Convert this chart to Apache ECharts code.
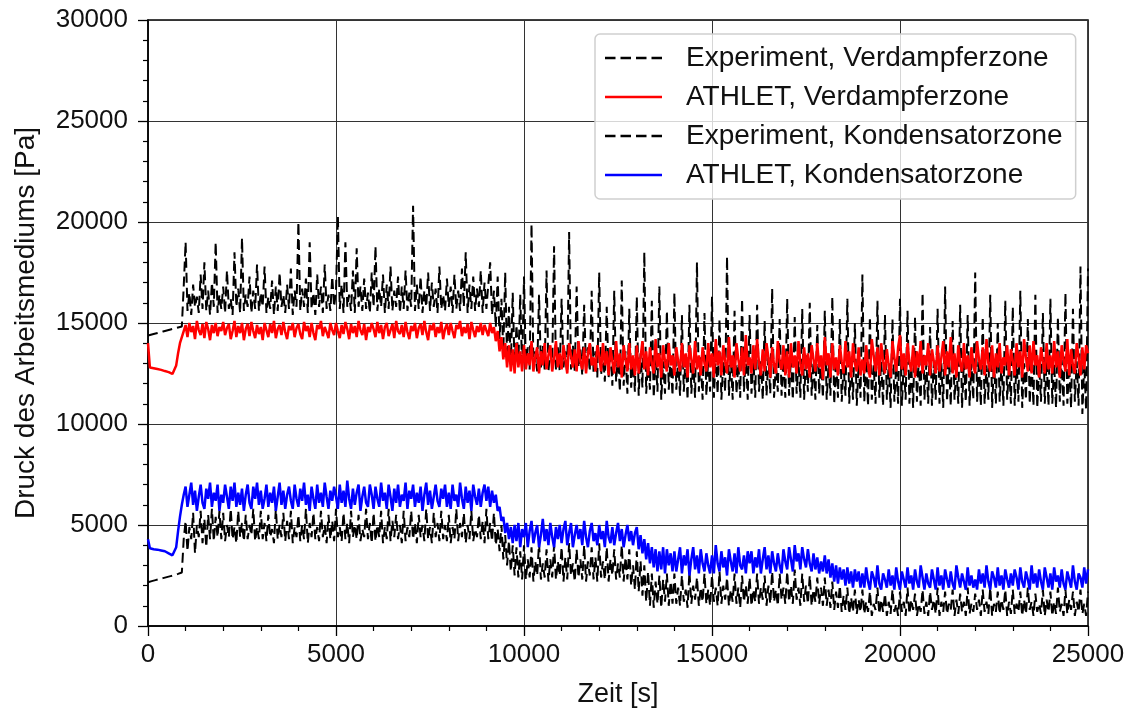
<!DOCTYPE html>
<html>
<head>
<meta charset="utf-8">
<title>Druck des Arbeitsmediums</title>
<script src="https://cdn.jsdelivr.net/npm/echarts@6.0.0/dist/echarts.min.js"></script>
<style>
  html, body { margin: 0; padding: 0; background: #fff; }
  #chart { width: 1132px; height: 713px; }
</style>
</head>
<body>
<div id="chart"></div>
<script>
// Abtastzeitpunkte, alle 50 s von 0 bis 25000 s
const zeit = [];
for (let t = 0; t <= 25000; t += 50) zeit.push(t);

// Experiment, Verdampferzone [Pa] (eine Zeile = 1000 s)
const expVerdampfer = [
  14380,14400,14430,14450,14480,14500,14530,14550,14580,14600,14630,14650,14680,14700,14730,14750,14780,14800,14830,16800,
  19000,15600,16500,15400,16900,15800,16300,15500,17400,15700,18000,15600,16600,15400,17000,15800,19000,15500,16400,15700,
  16800,15500,17600,15700,16200,15400,18500,15800,16700,15500,19200,15600,16400,15800,17300,15500,16600,15700,17900,15600,
  16500,15800,17800,15500,16300,15700,17100,15400,16800,15600,17500,15800,16400,15500,16900,15700,17700,15400,16600,15800,
  20000,15600,16700,15800,17200,15500,19000,15700,16500,15400,17400,15800,16800,15500,17900,15700,16400,15600,17300,15800,
  16600,20300,15700,16900,15500,19000,15800,16400,15600,17600,15500,18700,15800,16800,15600,17200,15700,16500,15500,17500,
  15800,18800,15600,16700,15800,17400,15500,16900,15700,17800,15600,16600,15800,17300,15500,16800,15700,17600,15600,16500,
  15800,20800,15600,16900,15700,17300,15500,16600,15800,17500,15600,17000,15800,16700,15500,17800,15700,16400,15600,17200,
  15800,16800,15500,17400,15700,16600,15600,17700,15800,18500,15500,16900,15700,17300,15600,16700,15800,17600,15500,17000,
  15700,16900,18000,15400,16600,14800,17300,14200,16200,13600,17500,13200,15800,12900,16500,12800,14900,13000,16400,12700,
  17300,12800,13800,12700,19900,12900,13600,12600,16400,12800,13900,12700,17600,12600,13700,12900,18800,12700,13800,12600,
  16200,12800,13600,12500,19500,12700,13900,12600,16800,12800,13700,12400,15900,12700,13800,12600,16600,12500,13600,12300,
  17500,12400,13500,12100,15800,12300,13700,11900,16600,12100,13400,11600,17100,11900,13600,11500,15700,11800,13300,11600,
  16300,11400,13500,11800,18500,11500,13200,11700,16100,11300,13400,11600,16800,11200,13100,11500,15600,11700,13300,11400,
  16500,11700,13200,11400,15400,11600,13500,11200,15900,11500,13100,11300,18000,11600,13300,11200,15500,11400,13200,11600,
  16300,11300,13400,11500,15200,11200,13100,11600,18300,11400,13300,11200,15600,11500,13000,11300,16200,11600,13400,11200,
  15400,11500,13200,11300,15900,11600,13100,11200,15100,11400,13300,11500,16700,11300,13000,11600,15200,11400,13200,11300,
  16200,11400,13300,11200,15300,11500,13100,11300,15700,11200,13400,11600,16000,11400,13100,11200,14900,11500,13200,11300,
  15600,11200,13000,11400,16300,11000,13200,11300,15200,11100,12900,11400,16200,11000,13100,11200,15000,10900,13000,11300,
  17400,11100,13200,10900,15300,11200,12900,11000,16100,11300,13100,10900,15400,11200,13000,10800,15200,11100,12900,11000,
  16200,10900,13100,11200,15600,11000,12900,10800,15300,11100,13200,10900,16500,11200,13000,11000,14800,10900,13100,11200,
  15700,11000,13000,10800,16800,11100,13200,10900,15100,11200,12900,11000,15900,10800,13100,11100,15400,10900,13000,11200,
  17500,11100,13200,10900,15300,11000,12900,11200,16400,10800,13100,11000,15000,11100,13000,10900,16100,11200,12900,11000,
  15800,10900,13100,11100,16600,10800,13000,11200,15200,11000,13200,10900,16400,10800,12900,11100,15500,11000,13100,10900,
  16200,11000,13000,10800,15300,11100,13200,10900,16500,11000,12900,10800,15700,11100,13100,10900,17800,10500,13000,10700,
  17700
];

// ATHLET, Verdampferzone [Pa]
const athletVerdampfer = [
  14000,12800,12780,12760,12740,12720,12700,12680,12650,12620,12600,12570,12530,12480,12450,12900,13500,14000,14300,14600,
  14900,14300,15000,14550,14850,14200,15100,14650,14400,14950,14250,15050,14700,14150,14900,14500,15000,14350,14800,14600,
  15050,14400,14750,14950,14200,14600,15100,14300,14850,14500,15000,14150,14700,14950,14350,15050,14600,14250,14900,14450,
  14800,14150,15000,14650,14300,14950,14500,15100,14250,14700,14900,14400,15050,14550,14200,14850,14650,15000,14300,14750,
  14950,14450,14200,15050,14600,14850,14300,15000,14500,14150,14900,14700,15100,14350,14800,14550,14250,15000,14650,14400,
  15000,14600,14250,14900,14450,15050,14700,14200,14950,14500,14850,14300,15100,14650,14400,14950,14150,14800,14550,15000,
  14700,14300,15050,14500,14900,14200,14800,15000,14350,14650,14950,14250,15100,14600,14450,14900,14300,15050,14550,14200,
  14850,14600,15000,14250,14750,14950,14400,15100,14550,14150,14900,14650,15000,14300,14800,14500,15050,14200,14700,14950,
  14400,15000,14600,14250,14900,14700,15100,14350,14800,14500,14950,14200,15050,14650,14300,14850,14550,15000,14400,14900,
  14950,14350,15000,14500,14800,14100,14600,13600,14300,13200,14000,12800,13900,12600,13700,12500,14000,12800,13600,12600,
  13900,12700,13500,12900,14100,12600,13300,13800,12500,13600,12900,14000,12700,13400,13900,12600,13200,14100,12800,13500,
  12700,13900,13200,12500,14000,13400,12800,13700,12600,14100,13100,12700,13800,12500,13500,14000,12900,13300,12600,13900,
  13400,12600,14000,12900,13600,12400,13800,13100,12500,14100,12800,13500,12300,13900,13200,12600,14000,12700,13400,12400,
  13900,12500,13300,14100,12700,13600,12400,13800,13000,12500,14200,12800,13500,12300,13900,13100,12600,14000,12900,13400,
  12400,13800,13100,12600,14000,12800,13500,12300,13900,13200,12500,14100,12700,13400,12400,13800,13000,12600,14000,12800,
  13500,12300,14200,12900,13600,12400,13900,13100,12500,14300,12800,13400,12300,14000,13200,12600,13800,12400,14400,12900,
  13300,12500,13900,12700,14200,13000,12400,13700,12600,14000,13300,12300,13800,12900,12500,14100,13100,12700,13900,12400,
  13600,12300,14000,12800,13400,12500,14100,13000,12400,13800,12700,13500,12300,13900,13200,12600,14000,12800,13400,12200,
  14300,12900,13500,12300,14000,12700,13300,12400,13900,13100,12500,14100,12800,13600,12300,14000,13000,12600,13800,12400,
  13200,12500,13900,12900,12300,14200,13400,12600,13800,12400,14000,13100,12500,13700,12900,12300,14100,13300,12600,13800,
  14400,12700,13500,12400,14000,13100,12600,13900,12300,13600,12800,14100,12500,13400,12900,14000,12400,13700,13100,12500,
  13900,12600,13300,14100,12400,13600,12800,14300,12500,13500,12300,13900,13000,12600,14000,12700,13400,12300,13800,12900,
  12500,14100,13200,12700,13800,12400,14200,13000,12600,13900,12300,13500,12800,14000,12500,13300,12900,13900,12400,13700,
  13100,12400,14000,12800,13600,12300,14200,13300,12600,13900,12500,14100,12900,13400,12300,13800,13100,12500,14000,12700,
  13400,12500,14100,12800,13600,12300,13900,13200,12600,14200,12400,13700,12900,12500,14000,13300,12400,13800,12700,13900,
  13500
];

// Experiment, Kondensatorzone [Pa]
const expKondensator = [
  2170,2200,2220,2250,2270,2300,2320,2350,2370,2400,2420,2450,2470,2500,2520,2550,2580,2610,2650,4300,
  5200,3700,4900,4300,5600,3600,5000,4400,5700,4100,5300,3900,5500,4300,5800,4200,5400,4400,5700,4300,
  5600,4200,5000,4400,5800,4300,4900,4100,5700,4400,5100,4200,5500,4300,5000,4500,5800,4200,4900,4300,
  5700,4300,5100,4200,5500,4400,4800,4100,5800,4300,5000,4400,5600,4200,5200,4300,5700,4100,4900,4400,
  5500,4200,5000,4300,5800,4100,5100,4400,5600,4300,4900,4200,5700,4400,5000,4100,5500,4300,5200,4200,
  5800,4400,4900,4200,5600,4300,5100,4100,5700,4400,5000,4300,5500,4200,4800,4400,5800,4300,5100,4100,
  5600,4200,5000,4400,5700,4100,4900,4300,5800,4200,5200,4400,5500,4300,5000,4100,5700,4200,4900,4400,
  5700,4300,5100,4100,5500,4400,5000,4200,5800,4300,4900,4100,5600,4400,5100,4200,5700,4300,5000,4200,
  5500,4100,4900,4300,5800,4200,5100,4400,5600,4100,5000,4300,5700,4200,4800,4400,5500,4300,5200,4100,
  5800,4300,5100,4200,5600,4000,4800,3700,5000,3300,4500,3000,4200,2700,4000,2500,3900,2400,3700,2300,
  4000,2300,3300,2400,3900,2200,3200,2500,4100,2300,3100,2400,3800,2200,3300,2400,4000,2300,3200,2500,
  3900,2200,3400,2300,4100,2500,3100,2200,3800,2400,3300,2300,4000,2200,3200,2500,3900,2300,3400,2200,
  4100,2400,3200,2300,3900,2200,3300,2500,3800,2300,3100,2400,4000,2200,3400,2300,3800,2000,3000,1800,
  3700,1700,3200,1500,3000,1200,2700,1000,2600,900,2200,1100,2500,900,2300,1200,2600,1000,2200,1100,
  2600,1100,1900,1000,2500,1200,1800,900,2700,1100,2000,1300,2400,1000,1900,1200,2600,1100,1800,1000,
  2500,1200,1900,1000,2700,1100,2000,1300,2400,1000,1800,1200,2600,1100,1900,900,2500,1200,2000,1100,
  2400,1000,1800,1200,2600,1100,1900,1300,2500,1000,2000,1100,2700,1200,1800,1000,2600,1300,1900,1100,
  2700,1200,2000,1100,2800,1300,1900,1000,2600,1200,2000,1100,2500,1000,1800,1200,2400,1100,1900,1000,
  2400,1000,1800,900,2200,800,1700,900,2000,700,1500,800,1900,600,1400,700,1800,600,1300,700,
  1800,600,1200,700,1700,500,1100,800,1900,600,1300,700,1600,500,1200,600,1800,700,1100,500,
  1700,700,1200,500,1900,600,1300,800,1600,500,1100,700,1800,600,1200,500,1700,800,1300,600,
  1900,500,1200,700,1700,600,1100,800,1800,500,1300,600,1600,700,1200,500,1900,600,1100,700,
  1600,800,1300,500,1800,700,1200,600,1900,500,1100,700,1700,600,1300,800,1800,500,1200,600,
  1800,600,1100,700,1700,500,1300,600,1900,800,1200,500,1600,700,1100,600,1800,500,1300,700,
  1700,500,1200,600,1900,700,1100,500,1800,600,1300,800,1700,500,1200,700,1800,600,1100,500,
  1700
];

// ATHLET, Kondensatorzone [Pa]
const athletKondensator = [
  4300,3850,3820,3800,3790,3780,3760,3740,3720,3700,3650,3600,3550,3500,3450,3900,4700,5400,6000,6500,
  6900,5900,6500,7100,6000,6700,5700,6400,7000,6100,5800,6800,6300,7100,5900,6600,6200,7000,5700,6500,
  6100,7000,6400,5800,6900,6200,7100,5900,6600,6000,6800,5700,6500,7000,6100,5800,6900,6300,7100,6000,
  6700,5800,6300,7000,5900,6600,6100,6900,5700,6400,7100,6000,6700,5800,6500,6900,6200,5800,7000,6300,
  5900,6800,6200,7100,6000,6500,5700,6900,6300,5800,7000,6100,6600,5900,7100,6400,5800,6700,6200,6900,
  6400,5800,7000,6100,6700,5900,7200,6300,5800,6800,6000,6600,7000,5700,6400,6900,6100,5900,7000,6500,
  5800,6900,6300,5900,7100,6200,6600,5800,7000,6400,5700,6800,6100,7000,5900,6500,6200,7100,5800,6700,
  6300,7000,5900,6600,6100,6900,5700,6500,7100,6000,6700,5800,6400,7000,6200,5900,6800,6300,7000,5900,
  6600,5800,7000,6200,6500,5900,7100,6300,5800,6900,6100,6700,5700,7000,6400,6000,6800,5900,6600,7000,
  6200,6900,5900,6700,6100,6500,5700,5900,5200,5400,4600,5100,4300,4900,4100,5000,4200,5100,3900,4800,
  4400,5100,3900,4700,5200,4100,4600,5000,3900,4500,5300,4200,4800,4000,5100,4400,3900,4900,4300,5000,
  4100,4800,5200,4000,4600,5100,3900,4500,5000,4300,4800,4000,5200,4400,3900,4700,5100,4200,4600,4000,
  5000,4300,4700,3900,5200,4400,4100,4900,4000,4600,5100,4200,4800,3900,4500,5000,4200,4700,4000,4600,
  4900,3800,4500,3600,4300,3300,4100,3100,3900,2900,3800,2700,3700,2800,3900,2600,3800,3000,3600,2700,
  3700,2700,3300,3900,2600,3500,3000,3800,2500,3300,3900,2800,3500,2600,3800,3100,2700,3600,3000,2600,
  3500,2600,4000,3100,2700,3700,2900,3400,2500,3800,3200,2700,3600,2600,3900,3000,2800,3500,2600,3700,
  3100,3700,2600,3400,2900,3800,2600,3300,3900,2800,3500,2600,3700,3100,2700,3600,3000,2600,3800,3200,
  2800,3900,3300,2700,4000,3200,3600,2800,3900,3300,2900,3800,3100,2700,3600,2800,3400,2600,3200,2700,
  3500,2600,3300,2400,3100,2200,3000,2100,2900,2300,2800,2000,2900,2100,2700,1900,2800,2200,2700,1900,
  2600,1900,2900,2200,1800,2700,2400,1900,3000,2100,1800,2600,2300,1900,2800,2000,2500,1800,2900,2200,
  1800,2700,2300,1900,2900,2100,2500,1800,2800,2200,1900,3000,2400,1800,2600,2100,1900,2800,2300,1800,
  2900,2000,2500,1800,2800,2300,1900,2700,2100,1800,3000,2400,1900,2600,2200,1800,2900,2000,2500,1900,
  2300,1800,2800,2100,2600,1900,3000,2200,1800,2700,2400,1900,2900,2000,2500,1800,2800,2300,1900,2600,
  2000,2800,2400,1800,2900,2200,1900,2700,2300,1800,3000,2100,2600,1900,2800,2200,1800,2900,2400,1900,
  2600,1800,2900,2200,2500,1900,2800,2100,1800,2700,2300,1900,3000,2200,1800,2600,2400,1900,2900,2100,
  2800
];

const xTicks = [0, 5000, 10000, 15000, 20000, 25000];
const yTicks = [0, 5000, 10000, 15000, 20000, 25000, 30000];

const schrift = 'Liberation Sans, Arial, Helvetica, sans-serif';
const strichIcon = 'path://M0,0h10.5v2.6h-10.5zM15.5,0h10.5v2.6h-10.5zM31,0h10.5v2.6h-10.5zM46.5,0h10.5v2.6h-10.5z';
const linieIcon = 'path://M0,0h57v2.6h-57z';

function paare(werte) {
  return zeit.map((t, i) => [t, werte[i]]);
}

const chart = echarts.init(document.getElementById('chart'));

const achse = {
  axisLine: { show: true, lineStyle: { color: '#000', width: 1.5 } },
  axisTick: { show: true, inside: false, length: 10, lineStyle: { color: '#000', width: 1.3 } },
  minorTick: { show: true, splitNumber: 5, length: 5, lineStyle: { color: '#000', width: 1.2 } },
  splitLine: { show: true, lineStyle: { color: '#333', width: 1 } },
  axisLabel: { color: '#111', fontSize: 26, fontFamily: schrift, formatter: v => String(v) },
  nameTextStyle: { color: '#111', fontSize: 27, fontFamily: schrift }
};

const option = {
  animation: false,
  backgroundColor: '#fff',
  grid: {
    left: 148, right: 44, top: 20, bottom: 84,
    show: true, borderColor: '#000', borderWidth: 1.5
  },
  xAxis: Object.assign({}, achse, {
    type: 'value',
    min: xTicks[0], max: xTicks[xTicks.length - 1], interval: 5000,
    name: 'Zeit [s]', nameLocation: 'middle', nameGap: 55,
    axisLabel: Object.assign({}, achse.axisLabel, { margin: 16 })
  }),
  yAxis: Object.assign({}, achse, {
    type: 'value',
    min: yTicks[0], max: yTicks[yTicks.length - 1], interval: 5000,
    name: 'Druck des Arbeitsmediums [Pa]', nameLocation: 'middle', nameGap: 108,
    nameTextStyle: Object.assign({}, achse.nameTextStyle, { fontSize: 28 }),
    axisLabel: Object.assign({}, achse.axisLabel, { margin: 20 })
  }),
  legend: {
    orient: 'vertical',
    left: 595, top: 34,
    itemWidth: 57, itemHeight: 3, itemGap: 11,
    padding: [10, 13, 10, 10],
    backgroundColor: 'rgba(255,255,255,0.8)',
    borderColor: '#cfcfcf', borderWidth: 1.5, borderRadius: 5,
    textStyle: { color: '#111', fontSize: 28, fontFamily: schrift, lineHeight: 26, padding: [0, 0, 0, 19] },
    data: [
      { name: 'Experiment, Verdampferzone', icon: strichIcon },
      { name: 'ATHLET, Verdampferzone', icon: linieIcon },
      { name: 'Experiment, Kondensatorzone', icon: strichIcon },
      { name: 'ATHLET, Kondensatorzone', icon: linieIcon }
    ]
  },
  series: [
    {
      name: 'Experiment, Verdampferzone', type: 'line', symbol: 'none',
      data: paare(expVerdampfer),
      lineStyle: { color: '#000', width: 2, type: [10, 5] },
      itemStyle: { color: '#000' }
    },
    {
      name: 'ATHLET, Verdampferzone', type: 'line', symbol: 'none',
      data: paare(athletVerdampfer),
      lineStyle: { color: '#ff0000', width: 2.5 },
      itemStyle: { color: '#ff0000' }
    },
    {
      name: 'Experiment, Kondensatorzone', type: 'line', symbol: 'none',
      data: paare(expKondensator),
      lineStyle: { color: '#000', width: 2, type: [10, 5] },
      itemStyle: { color: '#000' }
    },
    {
      name: 'ATHLET, Kondensatorzone', type: 'line', symbol: 'none',
      data: paare(athletKondensator),
      lineStyle: { color: '#0000ff', width: 2.5 },
      itemStyle: { color: '#0000ff' }
    }
  ]
};

chart.setOption(option);
</script>
</body>
</html>
